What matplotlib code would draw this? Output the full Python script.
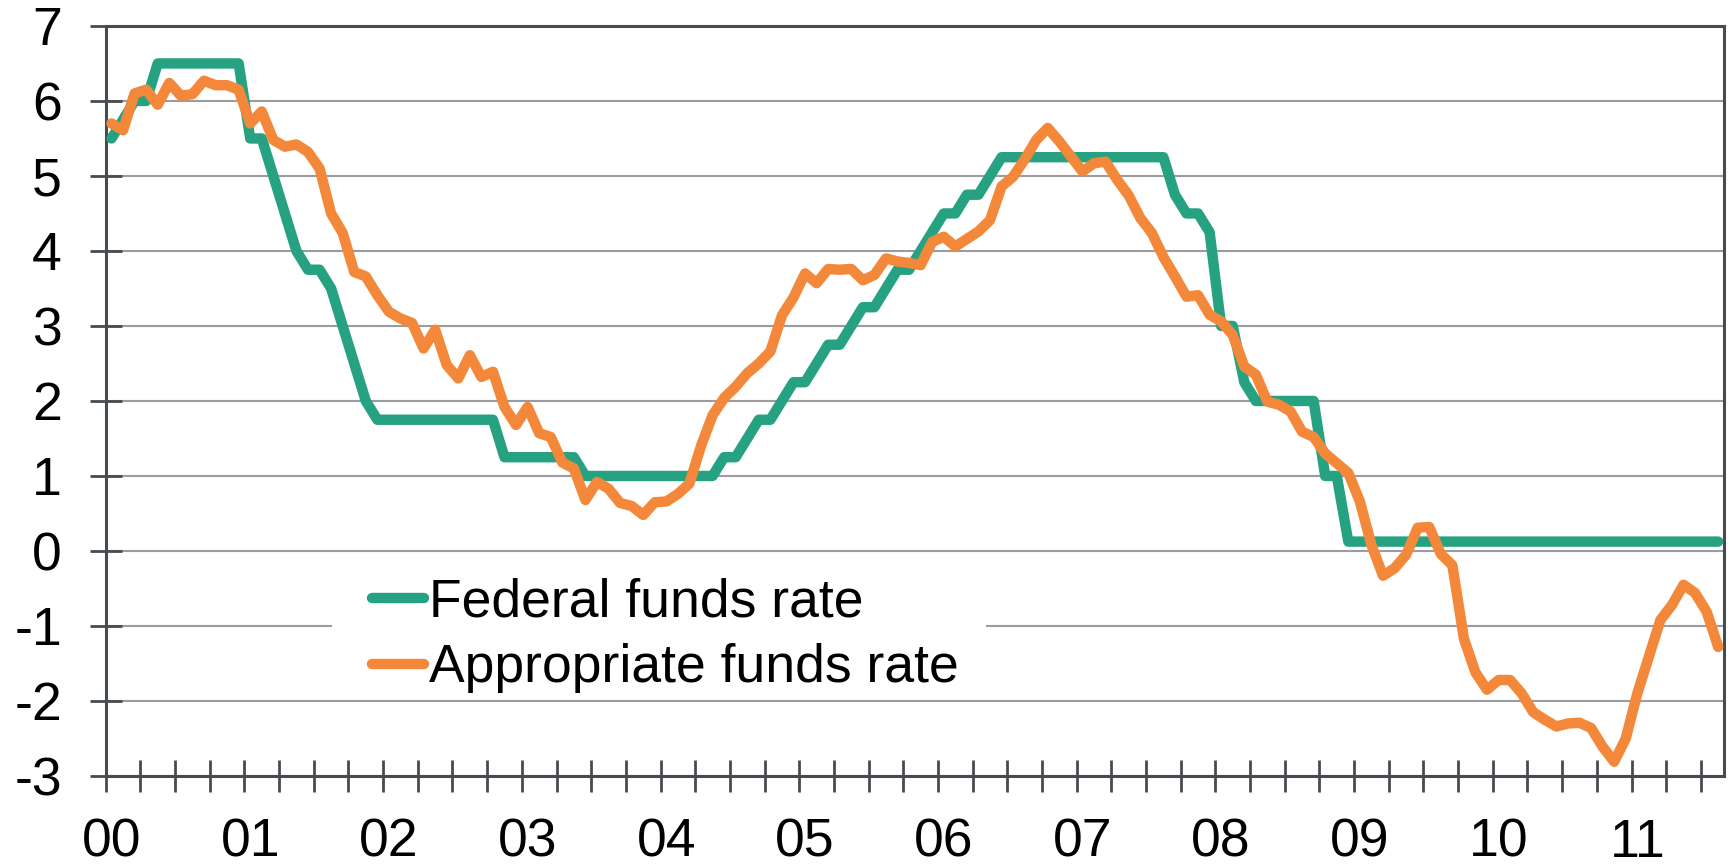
import numpy as np
import matplotlib.pyplot as plt
from matplotlib.patches import Rectangle

plt.rcParams['font.family'] = ['Liberation Sans', 'DejaVu Sans']

# monthly values, Jan 2000 .. Aug 2011 (one row per year)
fed_funds = [
    5.5, 5.75, 6.0, 6.0, 6.5, 6.5, 6.5, 6.5, 6.5, 6.5, 6.5, 6.5,
    5.5, 5.5, 5.0, 4.5, 4.0, 3.75, 3.75, 3.5, 3.0, 2.5, 2.0, 1.75,
    1.75, 1.75, 1.75, 1.75, 1.75, 1.75, 1.75, 1.75, 1.75, 1.75, 1.25, 1.25,
    1.25, 1.25, 1.25, 1.25, 1.25, 1.0, 1.0, 1.0, 1.0, 1.0, 1.0, 1.0,
    1.0, 1.0, 1.0, 1.0, 1.0, 1.25, 1.25, 1.5, 1.75, 1.75, 2.0, 2.25,
    2.25, 2.5, 2.75, 2.75, 3.0, 3.25, 3.25, 3.5, 3.75, 3.75, 4.0, 4.25,
    4.5, 4.5, 4.75, 4.75, 5.0, 5.25, 5.25, 5.25, 5.25, 5.25, 5.25, 5.25,
    5.25, 5.25, 5.25, 5.25, 5.25, 5.25, 5.25, 5.25, 4.75, 4.5, 4.5, 4.25,
    3.0, 3.0, 2.25, 2.0, 2.0, 2.0, 2.0, 2.0, 2.0, 1.0, 1.0, 0.125,
    0.125, 0.125, 0.125, 0.125, 0.125, 0.125, 0.125, 0.125, 0.125, 0.125, 0.125, 0.125,
    0.125, 0.125, 0.125, 0.125, 0.125, 0.125, 0.125, 0.125, 0.125, 0.125, 0.125, 0.125,
    0.125, 0.125, 0.125, 0.125, 0.125, 0.125, 0.125, 0.125,
]
appropriate = [
    5.70, 5.61, 6.10, 6.15, 5.95, 6.24, 6.07, 6.09, 6.27, 6.21, 6.21, 6.15,
    5.70, 5.86, 5.48, 5.39, 5.42, 5.32, 5.10, 4.50, 4.24, 3.72, 3.66, 3.41,
    3.19, 3.10, 3.04, 2.70, 2.95, 2.48, 2.30, 2.61, 2.32, 2.39, 1.92, 1.68,
    1.92, 1.57, 1.52, 1.18, 1.10, 0.68, 0.92, 0.83, 0.64, 0.60, 0.48, 0.65,
    0.66, 0.76, 0.90, 1.40, 1.81, 2.04, 2.19, 2.37, 2.50, 2.66, 3.14, 3.38,
    3.70, 3.57, 3.76, 3.75, 3.76, 3.61, 3.68, 3.90, 3.86, 3.84, 3.81, 4.12,
    4.19, 4.06, 4.16, 4.26, 4.41, 4.86, 4.99, 5.22, 5.48, 5.64, 5.46, 5.26,
    5.06, 5.17, 5.19, 4.95, 4.74, 4.44, 4.24, 3.92, 3.66, 3.39, 3.41, 3.15,
    3.06, 2.88, 2.46, 2.35, 1.99, 1.95, 1.86, 1.59, 1.52, 1.30, 1.17, 1.04,
    0.66, 0.08, -0.33, -0.23, -0.05, 0.31, 0.32, -0.04, -0.19, -1.17, -1.62, -1.85,
    -1.72, -1.72, -1.90, -2.15, -2.25, -2.34, -2.30, -2.29, -2.36, -2.61, -2.81, -2.50,
    -1.90, -1.41, -0.92, -0.72, -0.45, -0.56, -0.81, -1.28,
]
year_labels = ['00', '01', '02', '03', '04', '05', '06', '07', '08', '09', '10', '11']
y_values = [-3, -2, -1, 0, 1, 2, 3, 4, 5, 6, 7]
series_names = ['Federal funds rate', 'Appropriate funds rate']

GREEN = '#26a282'
ORANGE = '#f4883a'
DARK = '#474b50'
GRID = '#9a9c9f'
FS = 38.5

n = len(fed_funds)
months = np.arange(n) + 0.5          # category centres

fig = plt.figure(figsize=(17.33, 8.65), dpi=100)
ax = fig.add_axes([0.0610, 0.1029, 0.9338, 0.8671])

ax.plot(months, fed_funds, color=GREEN, lw=7.5, solid_capstyle='round',
        solid_joinstyle='round', label=series_names[0], zorder=3)
ax.plot(months, appropriate, color=ORANGE, lw=7.5, solid_capstyle='round',
        solid_joinstyle='round', label=series_names[1], zorder=4)

ax.set_xlim(0, n)
ax.set_ylim(y_values[0], y_values[-1])

# x axis: quarterly tick marks, a label per year
ax.set_xticks(np.arange(0, n, 3), minor=True)
ax.set_xticks(np.arange(len(year_labels)) * 12 + 0.5)
ax.set_xticklabels(year_labels)
ax.tick_params(axis='x', which='major', length=0, pad=30, labelsize=FS)
ax.tick_params(axis='x', which='minor', direction='inout', length=23,
               width=2, color=DARK)

ax.set_yticks(y_values)
ax.set_yticklabels([str(v) for v in y_values])
ax.tick_params(axis='y', direction='inout', length=23, width=2, color=DARK,
               pad=20, labelsize=FS)

ax.set_axisbelow(True)
ax.grid(axis='y', color=GRID, lw=1.5)
for side in ['left', 'right', 'top', 'bottom']:
    ax.spines[side].set_color(DARK)
    ax.spines[side].set_linewidth(2.2)

# white backing behind the legend (hides the gridline it sits on)
ax.add_patch(Rectangle((0.1398, 0.14), 0.4042, 0.12, transform=ax.transAxes,
                       facecolor='white', edgecolor='none', zorder=1))
ax.legend(loc='upper left', bbox_to_anchor=(0.1646, 0.265), frameon=False,
          fontsize=FS, borderpad=0, borderaxespad=0, handlelength=0.97,
          handletextpad=0.09, labelspacing=0.3)

plt.savefig('out.png', dpi=100)
